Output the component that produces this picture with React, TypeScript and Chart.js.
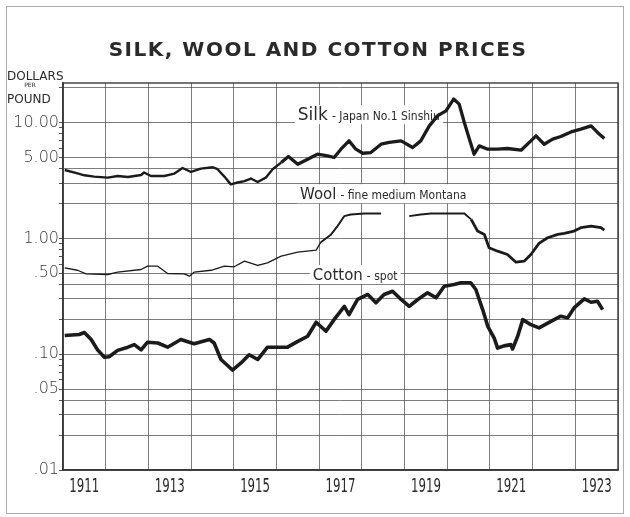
import React, { useEffect, useRef } from "react";
import { Chart, registerables } from "chart.js";

Chart.register(...registerables);

// ---- Text ----
const TITLE = "SILK, WOOL AND COTTON PRICES";
const UNIT_TOP = "DOLLARS";
const UNIT_MID = "PER";
const UNIT_BOTTOM = "POUND";

// ---- Axis definitions ----
const YEAR_START = 1911;
const YEAR_END = 1924;
const yearLabels = [1911, 1913, 1915, 1917, 1919, 1921, 1923];

const PRICE_MIN = 0.01;
const PRICE_MAX = 22;
const gridPrices = [0.01, 0.02, 0.03, 0.04, 0.05, 0.1, 0.2, 0.3, 0.4, 0.5, 1, 2, 3, 4, 5, 10, 20];
const minorPrices = [0.06, 0.07, 0.08, 0.09, 0.6, 0.7, 0.8, 0.9, 6, 7, 8, 9];
const labelledPrices = [10, 5, 1, 0.5, 0.1, 0.05, 0.01];
const priceLabels = ["10.00", "5.00", "1.00", ".50", ".10", ".05", ".01"];

// ---- Series: Silk, Japan No.1 Sinshiu (dollars per pound) ----
const silkYears = [
  1911.04, 1911.34, 1911.5, 1911.73, 1912.05, 1912.28, 1912.52, 1912.83, 1912.9, 1913.06,
  1913.37, 1913.61, 1913.8, 1914.0, 1914.23, 1914.51, 1914.62, 1914.78, 1914.93, 1915.09,
  1915.25, 1915.4, 1915.56, 1915.75, 1915.91, 1916.11, 1916.28, 1916.5, 1916.73, 1916.96,
  1917.2, 1917.35, 1917.51, 1917.7, 1917.86, 1918.02, 1918.21, 1918.45, 1918.64, 1918.92,
  1919.19, 1919.38, 1919.58, 1919.77, 1919.97, 1920.15, 1920.28, 1920.4, 1920.52, 1920.63,
  1920.75, 1920.95, 1921.18, 1921.41, 1921.73, 1921.96, 1922.08, 1922.27, 1922.47, 1922.66,
  1922.9, 1923.13, 1923.37, 1923.52, 1923.68,
];
const silkPrices = [
  3.9, 3.65, 3.51, 3.42, 3.35, 3.46, 3.39, 3.53, 3.71, 3.46,
  3.46, 3.63, 4.06, 3.75, 4.01, 4.12, 3.96, 3.42, 2.93, 3.04,
  3.13, 3.29, 3.07, 3.35, 3.96, 4.52, 5.1, 4.37, 4.83, 5.34,
  5.16, 5.0, 5.9, 6.96, 5.9, 5.44, 5.52, 6.51, 6.74, 6.96,
  6.1, 6.96, 9.38, 11.45, 12.65, 15.98, 14.46, 10.04, 7.2, 5.34,
  6.3, 5.9, 5.9, 5.98, 5.78, 6.96, 7.69, 6.51, 7.2, 7.6,
  8.32, 8.78, 9.38, 8.23, 7.3,
];

// ---- Series: Wool, fine medium Montana (no quotation late 1918) ----
const woolYears = [
  1911.04, 1911.34, 1911.54, 1912.05, 1912.28, 1912.83, 1912.98, 1913.22, 1913.45, 1913.84,
  1913.96, 1914.07, 1914.47, 1914.78, 1915.01, 1915.25, 1915.56, 1915.79, 1916.11, 1916.5,
  1916.93, 1917.04, 1917.28, 1917.43, 1917.59, 1917.74, 1918.06, 1918.45, 1918.8, 1919.11,
  1919.38, 1919.62, 1920.4, 1920.56, 1920.71, 1920.87, 1920.98, 1921.18, 1921.41, 1921.61,
  1921.8, 1921.96, 1922.15, 1922.35, 1922.59, 1922.74, 1922.97, 1923.13, 1923.37, 1923.6,
  1923.68,
];
const woolPrices = [
  0.557, 0.531, 0.495, 0.488, 0.511, 0.539, 0.576, 0.576, 0.498, 0.495,
  0.472, 0.511, 0.531, 0.576, 0.569, 0.636, 0.584, 0.616, 0.703, 0.761,
  0.792, 0.929, 1.083, 1.278, 1.56, 1.61, 1.64, 1.64, null, 1.56,
  1.61, 1.64, 1.64, 1.46, 1.157, 1.083, 0.831, 0.776, 0.727, 0.623,
  0.636, 0.727, 0.905, 1.014, 1.083, 1.105, 1.157, 1.238, 1.278, 1.238,
  1.18,
];

// ---- Series: Cotton, spot ----
const cottonYears = [
  1911.04, 1911.38, 1911.5, 1911.66, 1911.81, 1911.97, 1912.08, 1912.28, 1912.52, 1912.67,
  1912.83, 1912.98, 1913.22, 1913.45, 1913.76, 1914.07, 1914.43, 1914.54, 1914.7, 1914.97,
  1915.17, 1915.36, 1915.56, 1915.79, 1916.03, 1916.26, 1916.5, 1916.73, 1916.93, 1917.16,
  1917.35, 1917.59, 1917.7, 1917.9, 1918.14, 1918.33, 1918.52, 1918.72, 1918.92, 1919.11,
  1919.31, 1919.54, 1919.74, 1919.93, 1920.16, 1920.32, 1920.55, 1920.67, 1920.83, 1920.95,
  1921.1, 1921.18, 1921.33, 1921.49, 1921.53, 1921.65, 1921.77, 1921.96, 1922.15, 1922.43,
  1922.66, 1922.82, 1922.97, 1923.21, 1923.37, 1923.52, 1923.64,
];
const cottonPrices = [
  0.145, 0.148, 0.154, 0.134, 0.109, 0.094, 0.095, 0.108, 0.115, 0.121,
  0.109, 0.127, 0.125, 0.115, 0.134, 0.123, 0.134, 0.125, 0.09, 0.073,
  0.084, 0.099, 0.09, 0.115, 0.115, 0.115, 0.129, 0.143, 0.189, 0.158,
  0.199, 0.259, 0.22, 0.297, 0.328, 0.278, 0.328, 0.35, 0.297, 0.259,
  0.297, 0.339, 0.307, 0.386, 0.4, 0.414, 0.414, 0.362, 0.243, 0.174,
  0.138, 0.113, 0.118, 0.121, 0.111, 0.143, 0.199, 0.18, 0.169, 0.192,
  0.213, 0.206, 0.251, 0.301, 0.281, 0.287, 0.243,
];

// ---- Series captions ----
const seriesNames = ["Silk", "Wool", "Cotton"];
const seriesNotes = ["- Japan No.1 Sinshiu", "- fine medium Montana", "- spot"];

const INK = "#2a2a2a";
const LINE = "#1b1b1b";
const GRID = "rgba(70,70,70,0.7)";
const captionSizes = [17, 15, 15];
const SMALL_FONT = "12px 'Liberation Sans Narrow', 'DejaVu Sans Condensed', sans-serif";
const YEAR_FONT = "19px 'DejaVu Sans', sans-serif";

// caption anchors: left edge at a year, baseline at a price
const captionAnchors = [
  { year: 1916.5, price: 10.5 },
  { year: 1916.55, price: 2.18 },
  { year: 1916.85, price: 0.437 },
];

const toPoints = (xs: number[], ys: (number | null)[]) =>
  xs.map((x, i) => ({ x, y: ys[i] }));

const isClose = (a: number, b: number) => Math.abs(a - b) < 1e-9;

const pagePlugin = {
  id: "page",
  beforeDraw(chart: any) {
    const { ctx, width, height } = chart;
    ctx.save();
    ctx.fillStyle = "#ffffff";
    ctx.fillRect(0, 0, width, height);
    ctx.strokeStyle = "rgba(120,120,120,0.6)";
    ctx.lineWidth = 1;
    ctx.strokeRect(6.5, 6.5, width - 13, height - 10);

    ctx.fillStyle = INK;
    ctx.font = "bold 20px 'DejaVu Sans', sans-serif";
    ctx.textAlign = "center";
    ctx.textBaseline = "alphabetic";
    try {
      (ctx as any).letterSpacing = "1.5px";
    } catch (e) {}
    ctx.fillText(TITLE, 318, 56);
    try {
      (ctx as any).letterSpacing = "0px";
    } catch (e) {}

    ctx.textAlign = "left";
    ctx.font = "12px 'DejaVu Sans', sans-serif";
    ctx.fillText(UNIT_TOP, 7, 80);
    ctx.fillText(UNIT_BOTTOM, 7, 103);
    ctx.font = "6px 'DejaVu Sans', sans-serif";
    ctx.textAlign = "center";
    ctx.fillText(UNIT_MID, 30, 87);
    ctx.restore();
  },
};

const captionPlugin = {
  id: "captions",
  beforeDatasetsDraw(chart: any) {
    const { ctx, chartArea, scales } = chart;
    const xs = scales.x;
    const ys = scales.y;
    ctx.save();
    // plot frame
    ctx.strokeStyle = "#3a3a3a";
    ctx.lineWidth = 1.4;
    ctx.strokeRect(chartArea.left, chartArea.top, chartArea.right - chartArea.left, chartArea.bottom - chartArea.top);

    captionAnchors.forEach((a, i) => {
      const px = xs.getPixelForValue(a.year);
      const py = ys.getPixelForValue(a.price);
      const bigFont = `${captionSizes[i]}px 'DejaVu Sans', sans-serif`;
      ctx.font = bigFont;
      const w1 = ctx.measureText(seriesNames[i]).width;
      ctx.font = SMALL_FONT;
      const gap = 4;
      const w2 = ctx.measureText(seriesNotes[i]).width;
      ctx.fillStyle = "#ffffff";
      ctx.fillRect(px - 3, py - 15, w1 + gap + w2 + 6, 19);
      ctx.fillStyle = INK;
      ctx.textAlign = "left";
      ctx.textBaseline = "alphabetic";
      ctx.font = bigFont;
      ctx.fillText(seriesNames[i], px, py);
      ctx.font = SMALL_FONT;
      ctx.fillText(seriesNotes[i], px + w1 + gap, py);
    });
    ctx.restore();
  },
  afterDraw(chart: any) {
    // narrow lettering for the year labels, centred in each labelled year
    const { ctx, chartArea, scales } = chart;
    ctx.save();
    ctx.fillStyle = INK;
    ctx.font = YEAR_FONT;
    ctx.textAlign = "center";
    ctx.textBaseline = "middle";
    yearLabels.forEach((yr) => {
      const px = scales.x.getPixelForValue(yr + 0.5);
      ctx.save();
      ctx.translate(px, chartArea.bottom + 17.5);
      ctx.scale(0.62, 1);
      ctx.fillText(String(yr), 0, 0);
      ctx.restore();
    });
    ctx.restore();
  },
};

export default function App() {
  const canvasRef = useRef<HTMLCanvasElement | null>(null);

  useEffect(() => {
    const canvas = canvasRef.current;
    if (!canvas) return;

    const yearTicks: number[] = [];
    for (let v = YEAR_START; v <= YEAR_END; v += 1) yearTicks.push(v);

    const chart = new Chart(canvas, {
      type: "line",
      data: {
        datasets: [
          {
            label: seriesNames[0],
            data: toPoints(silkYears, silkPrices),
            borderColor: LINE,
            borderWidth: 3,
            pointRadius: 0,
            tension: 0,
            borderJoinStyle: "round",
            segment: {
              borderWidth: (c: any) => (c.p0.parsed.x < 1916 ? 2.4 : 3.3),
            },
          },
          {
            label: seriesNames[1],
            data: toPoints(woolYears, woolPrices),
            borderColor: LINE,
            borderWidth: 1.4,
            pointRadius: 0,
            tension: 0,
            spanGaps: false,
            borderJoinStyle: "round",
            segment: {
              borderWidth: (c: any) => {
                const x0 = c.p0.parsed.x;
                return x0 < 1917 ? 1.3 : x0 < 1920.45 ? 1.9 : 2.8;
              },
            },
          },
          {
            label: seriesNames[2],
            data: toPoints(cottonYears, cottonPrices),
            borderColor: LINE,
            borderWidth: 3.6,
            pointRadius: 0,
            tension: 0,
            borderJoinStyle: "round",
          },
        ],
      },
      options: {
        responsive: false,
        animation: false,
        events: [],
        layout: { padding: { top: 83, right: 12, left: 0, bottom: 0 } },
        plugins: {
          legend: { display: false },
          tooltip: { enabled: false },
          title: { display: false },
        },
        scales: {
          x: {
            type: "linear",
            min: YEAR_START,
            max: YEAR_END,
            afterBuildTicks: (scale: any) => {
              scale.ticks = yearTicks.map((value) => ({ value }));
            },
            afterFit: (scale: any) => {
              scale.height = 47;
            },
            grid: {
              drawTicks: false,
              lineWidth: 1,
              color: GRID,
            },
            border: { color: "#333", width: 1.6 },
            ticks: { display: false },
          },
          y: {
            type: "logarithmic",
            min: PRICE_MIN,
            max: PRICE_MAX,
            afterBuildTicks: (scale: any) => {
              scale.ticks = [...gridPrices, ...minorPrices]
                .sort((a, b) => a - b)
                .map((value) => ({ value }));
            },
            afterFit: (scale: any) => {
              scale.width = 63;
            },
            grid: {
              drawTicks: true,
              tickLength: 4,
              lineWidth: 1,
              color: (c: any) =>
                c.tick && minorPrices.some((m) => isClose(m, c.tick.value)) ? "rgba(0,0,0,0)" : GRID,
              tickColor: "#555",
            },
            border: { color: "#333", width: 1.4 },
            ticks: {
              autoSkip: false,
              padding: 0,
              color: "#3a3a3a",
              font: { family: "'DejaVu Sans', sans-serif", size: 16, weight: "200" },
              callback: (value: any) => {
                const v = Number(value);
                const idx = labelledPrices.findIndex((p) => isClose(p, v));
                return idx >= 0 ? priceLabels[idx] : "";
              },
            },
          },
        },
      },
      plugins: [pagePlugin, captionPlugin],
    } as any);

    return () => chart.destroy();
  }, []);

  return (
    <div style={{ position: "absolute", left: 0, top: 0, width: 630, height: 517, background: "#fff" }}>
      <canvas ref={canvasRef} width={630} height={517} style={{ display: "block" }} />
    </div>
  );
}
